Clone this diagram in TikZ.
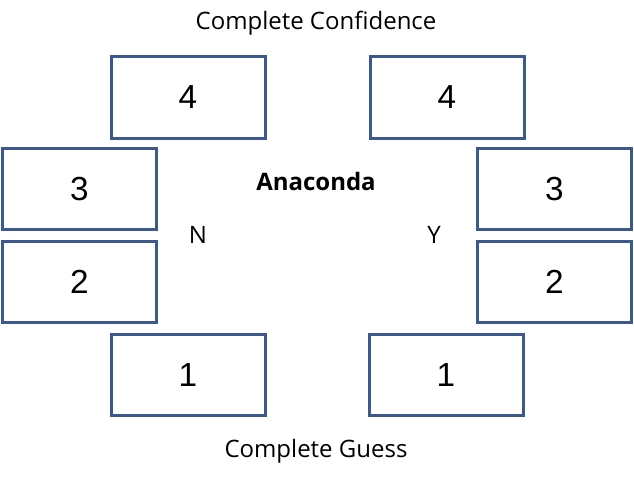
\documentclass[tikz,border=0pt]{standalone}
\usepackage{fontspec}
\setmainfont{Open Sans}
\newfontfamily\digitfont{Liberation Sans}
\definecolor{boxblue}{RGB}{59,89,142}
\begin{document}
\begin{tikzpicture}
[x=0.75pt,y=-0.75pt,
level/.style={rectangle,draw=boxblue,line width=2.25pt,fill=white,
minimum width=115.5pt,minimum height=61pt,inner sep=0pt,
font=\digitfont\fontsize{25}{30}\selectfont},
caption/.style={inner sep=0pt,anchor=base,font=\fontsize{18}{22}\selectfont}]
       \useasboundingbox (0,0) rectangle (634,479);
       \node (top) at (316,29) [caption] {Complete Confidence};
       \node (bottom) at (316,457) [caption] {Complete Guess};
       \node (title) at (316,190) [caption,font=\bfseries\fontsize{18}{22}\selectfont] {Anaconda};
       \node (no) at (198,243) [caption] {N};
       \node (yes) at (434,243) [caption] {Y};
       \node (n4) at (188,97.5) [level] {4};
       \node (n3) at (79.5,189) [level] {3};
       \node (n2) at (79.5,282) [level] {2};
       \node (n1) at (188,375) [level] {1};
       \node (y4) at (447,97.5) [level] {4};
       \node (y3) at (554.5,189) [level] {3};
       \node (y2) at (554.5,282) [level] {2};
       \node (y1) at (446,375) [level] {1};
    \end{tikzpicture}
\end{document}
